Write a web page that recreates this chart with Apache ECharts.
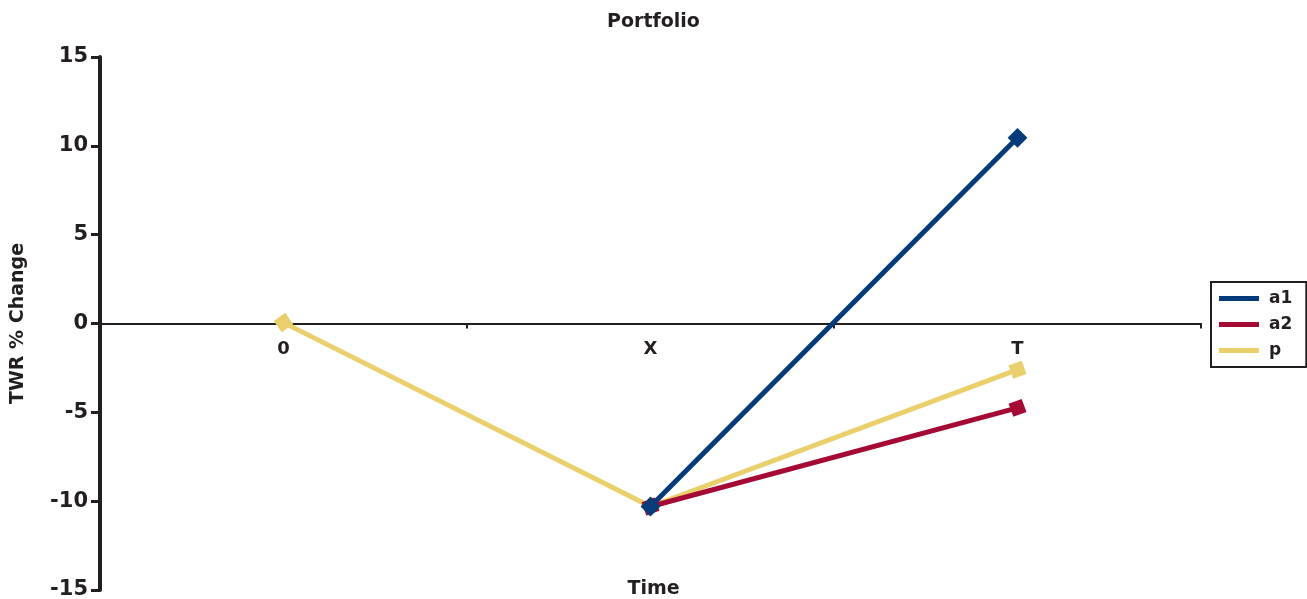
<!DOCTYPE html>
<html>
<head>
<meta charset="utf-8">
<script src="https://cdn.jsdelivr.net/npm/echarts@6/dist/echarts.min.js"></script>
<style>
  html, body { margin: 0; padding: 0; background: #fff; }
  #chart { width: 1307px; height: 599px; }
</style>
</head>
<body>
<div id="chart"></div>
<script>
// Time points and TWR % change per series
const categories = ['0', 'X', 'T'];
const a1Values = [null, -10.3, 10.45];
const a2Values = [null, -10.3, -4.75];
const pValues = [0.05, -10.3, -2.6];
const yTicks = { min: -15, max: 15, step: 5 };

const FONT = 'DejaVu Sans';
const INK = '#231f20';
const COLORS = { a1: '#063b7a', a2: '#a50a35', p: '#ead06c' };

// plot area in pixels; the time axis is lifted to sit on the zero line
const GRID = { left: 100, right: 106, top: 57, bottom: 9 };
const CHART_H = 599;
const plotH = CHART_H - GRID.top - GRID.bottom;
const zeroLift = plotH * (0 - yTicks.min) / (yTicks.max - yTicks.min);

// marker rotation follows the direction of each segment
function withRotation(values, rotations) {
  return values.map((v, i) => v === null ? null : { value: v, symbolRotate: rotations[i] });
}

const chart = echarts.init(document.getElementById('chart'), null, { renderer: 'canvas' });

function lineSeries(name, values, rotations, z) {
  return {
    name: name,
    type: 'line',
    data: withRotation(values, rotations),
    connectNulls: false,
    symbol: 'rect',
    symbolSize: 14,
    showAllSymbol: true,
    z: z,
    lineStyle: { width: 5, color: COLORS[name] },
    itemStyle: { color: COLORS[name] },
    emphasis: { disabled: true },
    animation: false
  };
}

chart.setOption({
  animation: false,
  title: [
    {
      text: 'Portfolio', left: 'center', top: 8,
      textStyle: { fontFamily: FONT, fontWeight: 'bold', fontSize: 19, color: INK }
    },
    {
      text: 'Time', left: 'center', top: 575,
      textStyle: { fontFamily: FONT, fontWeight: 'bold', fontSize: 19, color: INK }
    }
  ],
  legend: {
    orient: 'vertical',
    left: 1211, top: 282,
    data: ['a1', 'a2', 'p'],
    icon: 'rect',
    itemWidth: 40, itemHeight: 5,
    itemGap: 9,
    padding: [8, 14, 8, 8],
    borderColor: INK, borderWidth: 2,
    textStyle: { fontFamily: FONT, fontWeight: 'bold', fontSize: 17, color: INK, padding: [0, 0, 0, 5] }
  },
  grid: Object.assign({ containLabel: false, outerBoundsMode: 'none' }, GRID),
  xAxis: {
    type: 'category',
    data: categories,
    boundaryGap: true,
    position: 'bottom',
    offset: -zeroLift,
    axisLine: { onZero: false, lineStyle: { color: INK, width: 2 } },
    axisTick: { show: true, inside: false, length: 5, lineStyle: { color: INK, width: 2 } },
    axisLabel: { margin: 17, fontFamily: FONT, fontWeight: 'bold', fontSize: 18, color: INK },
    splitLine: { show: false }
  },
  yAxis: {
    type: 'value',
    name: 'TWR % Change',
    nameLocation: 'middle',
    nameGap: 72,
    nameTextStyle: { fontFamily: FONT, fontWeight: 'bold', fontSize: 19, color: INK },
    min: yTicks.min, max: yTicks.max, interval: yTicks.step,
    axisLine: { show: true, lineStyle: { color: INK, width: 4 } },
    axisTick: { show: true, length: 9, lineStyle: { color: INK, width: 3 } },
    axisLabel: { margin: 12, fontFamily: FONT, fontWeight: 'bold', fontSize: 21, color: INK },
    splitLine: { show: false }
  },
  series: [
    lineSeries('a1', a1Values, [0, 45, 45], 5),
    lineSeries('a2', a2Values, [0, 20, 20], 4),
    lineSeries('p', pValues, [35, 30, 20], 3)
  ]
});
</script>
</body>
</html>
